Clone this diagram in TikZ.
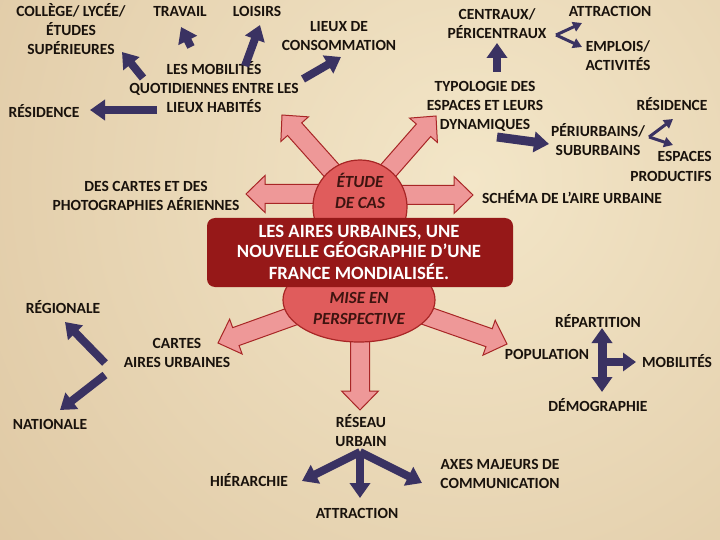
\documentclass[tikz,border=0pt]{standalone}
\usepackage{fontspec}
\setmainfont{Carlito}
\usetikzlibrary{arrows.meta,calc,shapes.geometric}
\definecolor{txt}{RGB}{25,18,12}
\definecolor{navy}{RGB}{58,50,98}
\definecolor{pinkfill}{RGB}{238,152,152}
\definecolor{pinkline}{RGB}{168,38,38}
\definecolor{circfill}{RGB}{224,92,92}
\definecolor{boxred}{RGB}{150,24,24}
\definecolor{bglight}{RGB}{243,230,200}
\definecolor{bgdark}{RGB}{210,181,140}
\newcommand\pinkarrow[2]{%
  \coordinate (pkH) at ($(#2)!19pt!(#1)$);
  \draw[pinkarr] ($(#1)!9.5pt!90:(#2)$) -- ($(pkH)!9.5pt!90:(#2)$) -- ($(pkH)!18.5pt!90:(#2)$)
    -- (#2) -- ($(pkH)!18.5pt!-90:(#2)$) -- ($(pkH)!9.5pt!-90:(#2)$) -- ($(#1)!9.5pt!-90:(#2)$) -- cycle;}
\begin{document}
\begin{tikzpicture}[x=1pt,y=-1pt,
  lbl/.style={font=\bfseries\fontsize{15.5}{19}\selectfont, align=center, text=txt, inner sep=0pt, anchor=base},
  ital/.style={font=\bfseries\itshape\fontsize{17}{20.5}\selectfont, align=center, text=txt!70!boxred, inner sep=0pt, anchor=base},
  pinkarr/.style={fill=pinkfill, draw=pinkline, line width=1pt, line join=miter},
  navyarr/.style={draw=navy, line width=8pt, -{Triangle[width=20pt,length=15pt]}},
  navythin/.style={draw=navy, line width=3pt, -{Triangle[width=10pt,length=9pt]}},
  navydbl/.style={draw=navy, line width=9pt, {Triangle[width=20pt,length=15pt]}-{Triangle[width=20pt,length=15pt]}}]
\useasboundingbox (0,0) rectangle (720,540);
\fill[bgdark] (0,0) rectangle (720,540);
\begin{scope}
  \clip (0,0) rectangle (720,540);
  \shade[inner color=bglight, outer color=bgdark] (470,180) circle (1000pt);
\end{scope}

% pink arrows
\coordinate (pUL1) at (340,180); \coordinate (pUL2) at (282,115);
\coordinate (pUR1) at (380,180); \coordinate (pUR2) at (436,116);
\coordinate (pL1) at (330,194);  \coordinate (pL2) at (246,194);
\coordinate (pR1) at (390,195);  \coordinate (pR2) at (473,195);
\coordinate (pDL1) at (310,310); \coordinate (pDL2) at (218,343);
\coordinate (pDR1) at (410,310); \coordinate (pDR2) at (507,344);
\coordinate (pD1) at (360,330);  \coordinate (pD2) at (360,410);
\pinkarrow{pUL1}{pUL2}
\pinkarrow{pUR1}{pUR2}
\pinkarrow{pL1}{pL2}
\pinkarrow{pR1}{pR2}
\pinkarrow{pDL1}{pDL2}
\pinkarrow{pDR1}{pDR2}
\pinkarrow{pD1}{pD2}

% central shapes
\node[circle, minimum size=94pt, inner sep=0pt, fill=circfill, draw=pinkline, line width=1.2pt] (etude) at (360,207) {};
\node[ellipse, minimum width=152pt, minimum height=84pt, inner sep=0pt, fill=circfill, draw=pinkline, line width=1.2pt] (mise) at (359,300) {};
\node[ital] (etudetxt) at (360,208) {ÉTUDE\\DE CAS};
\node[ital] (misetxt) at (359,324) {MISE EN\\PERSPECTIVE};
\node[fill=boxred, rounded corners=8pt, minimum width=306pt, minimum height=69pt, inner sep=0pt] (title) at (360,252.5) {};
\node[font=\bfseries\fontsize{18.7}{21}\selectfont, text=white, align=center, inner sep=0pt, anchor=base] (titletxt) at (359,279) {LES AIRES URBAINES, UNE\\NOUVELLE GÉOGRAPHIE D’UNE\\FRANCE MONDIALISÉE.};

% labels (base = baseline of last line)
\node[lbl] (college) at (71,55) {COLLÈGE/ LYCÉE/\\ÉTUDES\\SUPÉRIEURES};
\node[lbl] (travail) at (180,17) {TRAVAIL};
\node[lbl] (loisirs) at (257,17) {LOISIRS};
\node[lbl] (lieux) at (339,51) {LIEUX DE\\CONSOMMATION};
\node[lbl] (mobil) at (214,113) {LES MOBILITÉS\\QUOTIDIENNES ENTRE LES\\LIEUX HABITÉS};
\node[lbl] (resL) at (44,118) {RÉSIDENCE};
\node[lbl] (centraux) at (497,39) {CENTRAUX/\\PÉRICENTRAUX};
\node[lbl] (attrT) at (610,17) {ATTRACTION};
\node[lbl] (emplois) at (618,71) {EMPLOIS/\\ACTIVITÉS};
\node[lbl] (typo) at (485,130) {TYPOLOGIE DES\\ESPACES ET LEURS\\DYNAMIQUES};
\node[lbl] (resR) at (672,111) {RÉSIDENCE};
\node[lbl] (periurb) at (598,156) {PÉRIURBAINS/\\SUBURBAINS};
\node[lbl, align=right, anchor=base east, font=\bfseries\fontsize{15.5}{20}\selectfont] (espprod) at (712,182) {ESPACES\\PRODUCTIFS};
\node[lbl] (schema) at (572,204) {SCHÉMA DE L’AIRE URBAINE};
\node[lbl] (descartes) at (146,211) {DES CARTES ET DES\\PHOTOGRAPHIES AÉRIENNES};
\node[lbl] (regionale) at (63,313) {RÉGIONALE};
\node[lbl] (cartes) at (177,367) {CARTES\\AIRES URBAINES};
\node[lbl] (nationale) at (50,429) {NATIONALE};
\node[lbl] (hier) at (249,486) {HIÉRARCHIE};
\node[lbl] (attrB) at (357,518) {ATTRACTION};
\node[lbl] (reseau) at (361,446) {RÉSEAU\\URBAIN};
\node[lbl] (axes) at (500,488) {AXES MAJEURS DE\\COMMUNICATION};
\node[lbl] (popul) at (547,359) {POPULATION};
\node[lbl] (repart) at (598,327) {RÉPARTITION};
\node[lbl] (mobilites) at (677,367) {MOBILITÉS};
\node[lbl] (demog) at (598,411) {DÉMOGRAPHIE};

% navy arrows: mobilités cluster
\coordinate (nA1) at (143,78);  \coordinate (nA2) at (122,52);
\coordinate (nB1) at (191,47);  \coordinate (nB2) at (181,27);
\coordinate (nC1) at (245,66);  \coordinate (nC2) at (260,25);
\coordinate (nD1) at (303,79);  \coordinate (nD2) at (341,57);
\coordinate (nE1) at (157,110); \coordinate (nE2) at (90,110);
\draw[navyarr] (nA1) -- (nA2);
\draw[navyarr] (nB1) -- (nB2);
\draw[navyarr] (nC1) -- (nC2);
\draw[navyarr] (nD1) -- (nD2);
\draw[navyarr] (nE1) -- (nE2);
% typologie cluster
\coordinate (nF1) at (497,72);  \coordinate (nF2) at (497,43);
\coordinate (nG1) at (497,137); \coordinate (nG2) at (549,144);
\draw[navyarr] (nF1) -- (nF2);
\draw[navyarr, line width=9pt] (nG1) -- (nG2);
\coordinate (nH0) at (556,35); \coordinate (nH1) at (582,23); \coordinate (nH2) at (582,47);
\draw[navythin] (nH0) -- (nH1);
\draw[navythin] (nH0) -- (nH2);
\coordinate (nI0) at (649,137); \coordinate (nI1) at (673,119); \coordinate (nI2) at (673,145);
\draw[navythin] (nI0) -- (nI1);
\draw[navythin] (nI0) -- (nI2);
% cartes cluster
\coordinate (nJ1) at (105,363); \coordinate (nJ2) at (65,322);
\coordinate (nK1) at (105,375); \coordinate (nK2) at (60,410);
\draw[navyarr] (nJ1) -- (nJ2);
\draw[navyarr] (nK1) -- (nK2);
% réseau cluster
\coordinate (nL0) at (360,452);
\coordinate (nL1) at (302,481); \coordinate (nL2) at (360,498); \coordinate (nL3) at (422,483);
\draw[navyarr] (nL0) -- (nL1);
\draw[navyarr] (nL0) -- (nL2);
\draw[navyarr] (nL0) -- (nL3);
% population cross
\coordinate (nM1) at (602,328); \coordinate (nM2) at (602,392);
\coordinate (nM0) at (600,362); \coordinate (nM3) at (636,362);
\draw[navydbl] (nM1) -- (nM2);
\draw[navyarr, -{Triangle[width=18pt,length=13pt]}] (nM0) -- (nM3);
\end{tikzpicture}
\end{document}
